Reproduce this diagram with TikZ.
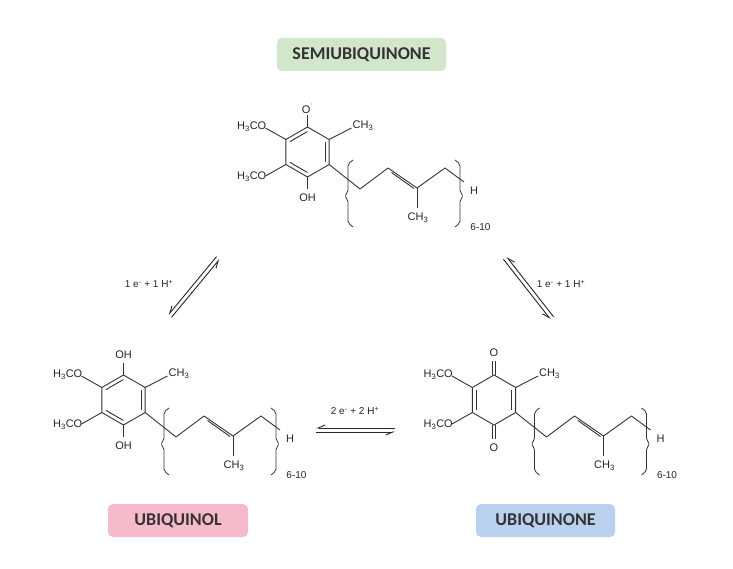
\documentclass[tikz,border=0pt]{standalone}
\usepackage{fontspec}
\setmainfont{Liberation Sans}
\newfontfamily\boxfont{Carlito}
\usetikzlibrary{arrows.meta}
\tikzset{
  bond/.style={line width=0.9pt, line join=round, color=black!80},
  atom/.style={inner sep=0pt, font=\fontsize{11}{12}\selectfont, text=black!85},
  small/.style={inner sep=0pt, font=\fontsize{10}{11}\selectfont, text=black!85},
  lab/.style={rounded corners=5pt, minimum height=33pt, font=\boxfont\bfseries\fontsize{18}{20}\selectfont, text=black!80},
  eq/.style={line width=0.9pt, color=black!85},
  hp/.style={eq, -{Straight Barb[right,length=7pt,width=6pt]}}
}
\newcommand\ubchain[1]{%
  \draw[bond] (21.65,12.5) -- (52.5,37) -- (80.5,16) -- (109.5,36) -- (137.5,16) -- (156.5,30);
  \draw[bond] (84,20.5) -- (106.5,36.5);
  \draw[bond] (109.5,36) -- (109.5,56);
  \node[atom] (#1m) at (110.5,66) {CH\textsubscript{3}};
  \node[atom] (#1h) at (166.5,39) {H};
  \node[small] (#1n) at (173,75) {6-10};
  \draw[bond, line width=0.8pt, rounded corners=2pt] (45.5,8) -- (40.5,12) -- (40.5,40) -- (37,44) -- (40.5,48) -- (40.5,71) -- (45.5,75);
  \draw[bond, line width=0.8pt, rounded corners=2pt] (147.5,8) -- (152.5,12) -- (152.5,40) -- (156,44) -- (152.5,48) -- (152.5,71) -- (147.5,75);
}
\newcommand\ubring{%
  \draw[bond] (0,-25) -- (-21.65,-12.5) -- (-21.65,12.5) -- (0,25) -- (21.65,12.5) -- (21.65,-12.5) -- cycle;
  \draw[bond] (21.65,-12.5) -- (44,-24);
  \draw[bond] (-21.65,-12.5) -- (-42,-24);
  \draw[bond] (-21.65,12.5) -- (-42,24);
}
\newcommand\ubmeo[1]{%
  \node[atom, anchor=west] (#1c) at (45,-26) {CH\textsubscript{3}};
  \node[atom, anchor=east] (#1a) at (-41,-25) {H\textsubscript{3}CO};
  \node[atom, anchor=east] (#1b) at (-41,25) {H\textsubscript{3}CO};
}
\begin{document}
\begin{tikzpicture}[x=1pt,y=-1pt]
\useasboundingbox[fill=white] (0,0) rectangle (733,569);
% semiubiquinone
\begin{scope}[shift={(307.5,152)}]
  \ubring
  \draw[bond] (-17.75,-10.25) -- (0,-20.5);
  \draw[bond] (17.75,-10.25) -- (17.75,10.25);
  \draw[bond] (-17.75,10.25) -- (0,20.5);
  \draw[bond] (0,-25) -- (0,-37);
  \draw[bond] (0,25) -- (0,37);
  \node[atom] (so) at (0,-44) {O\raisebox{0.6ex}{\textsuperscript{$\cdot$}}};
  \node[atom] (soh) at (0,46) {OH};
  \ubmeo{s}
  \ubchain{s}
\end{scope}
% ubiquinol
\begin{scope}[shift={(123.5,400)}]
  \ubring
  \draw[bond] (-17.75,-10.25) -- (0,-20.5);
  \draw[bond] (17.75,-10.25) -- (17.75,10.25);
  \draw[bond] (-17.75,10.25) -- (0,20.5);
  \draw[bond] (0,-25) -- (0,-37);
  \draw[bond] (0,25) -- (0,37);
  \node[atom] (loh1) at (0,-45) {OH};
  \node[atom] (loh2) at (0,46) {OH};
  \ubmeo{l}
  \ubchain{l}
\end{scope}
% ubiquinone
\begin{scope}[shift={(494,400)}]
  \ubring
  \draw[bond] (-17.75,-10.25) -- (-17.75,10.25);
  \draw[bond] (17.75,-10.25) -- (17.75,10.25);
  \draw[bond] (-1.8,-25) -- (-1.8,-39);
  \draw[bond] (1.8,-25) -- (1.8,-39);
  \draw[bond] (-1.8,25) -- (-1.8,39);
  \draw[bond] (1.8,25) -- (1.8,39);
  \node[atom] (ro1) at (0,-47) {O};
  \node[atom] (ro2) at (0,48) {O};
  \ubmeo{r}
  \ubchain{r}
\end{scope}
% labels
\node[lab, fill=green!45!black!10!white, fill={rgb,255:red,210;green,230;blue,203}, minimum width=169pt] (semi) at (361.5,54.5) {SEMIUBIQUINONE};
\node[lab, fill={rgb,255:red,245;green,187;blue,203}, minimum width=140pt] (ubol) at (178,520.5) {UBIQUINOL};
\node[lab, fill={rgb,255:red,185;green,209;blue,239}, minimum width=139pt] (ubone) at (545.5,520.5) {UBIQUINONE};
% equilibrium arrows
\coordinate (a1) at (171.5,317.3); \coordinate (a2) at (219.5,259.3);
\coordinate (b1) at (216.5,256.7); \coordinate (b2) at (168.5,314.7);
\draw[hp] (a1) -- (a2);
\draw[hp] (b1) -- (b2);
\node[small] (l1) at (149,284) {1 e\textsuperscript{-} + 1 H\textsuperscript{+}};
\coordinate (c1) at (503.4,259.2); \coordinate (c2) at (550.4,319.2);
\coordinate (d1) at (553.6,316.8); \coordinate (d2) at (506.6,256.8);
\draw[hp] (c1) -- (c2);
\draw[hp] (d1) -- (d2);
\node[small] (l2) at (561,284) {1 e\textsuperscript{-} + 1 H\textsuperscript{+}};
\coordinate (e1) at (395,428); \coordinate (e2) at (316,428);
\coordinate (f1) at (316,432); \coordinate (f2) at (395,432);
\draw[hp] (e1) -- (e2);
\draw[hp] (f1) -- (f2);
\node[small] (l3) at (355,411) {2 e\textsuperscript{-} + 2 H\textsuperscript{+}};
\end{tikzpicture}
\end{document}
